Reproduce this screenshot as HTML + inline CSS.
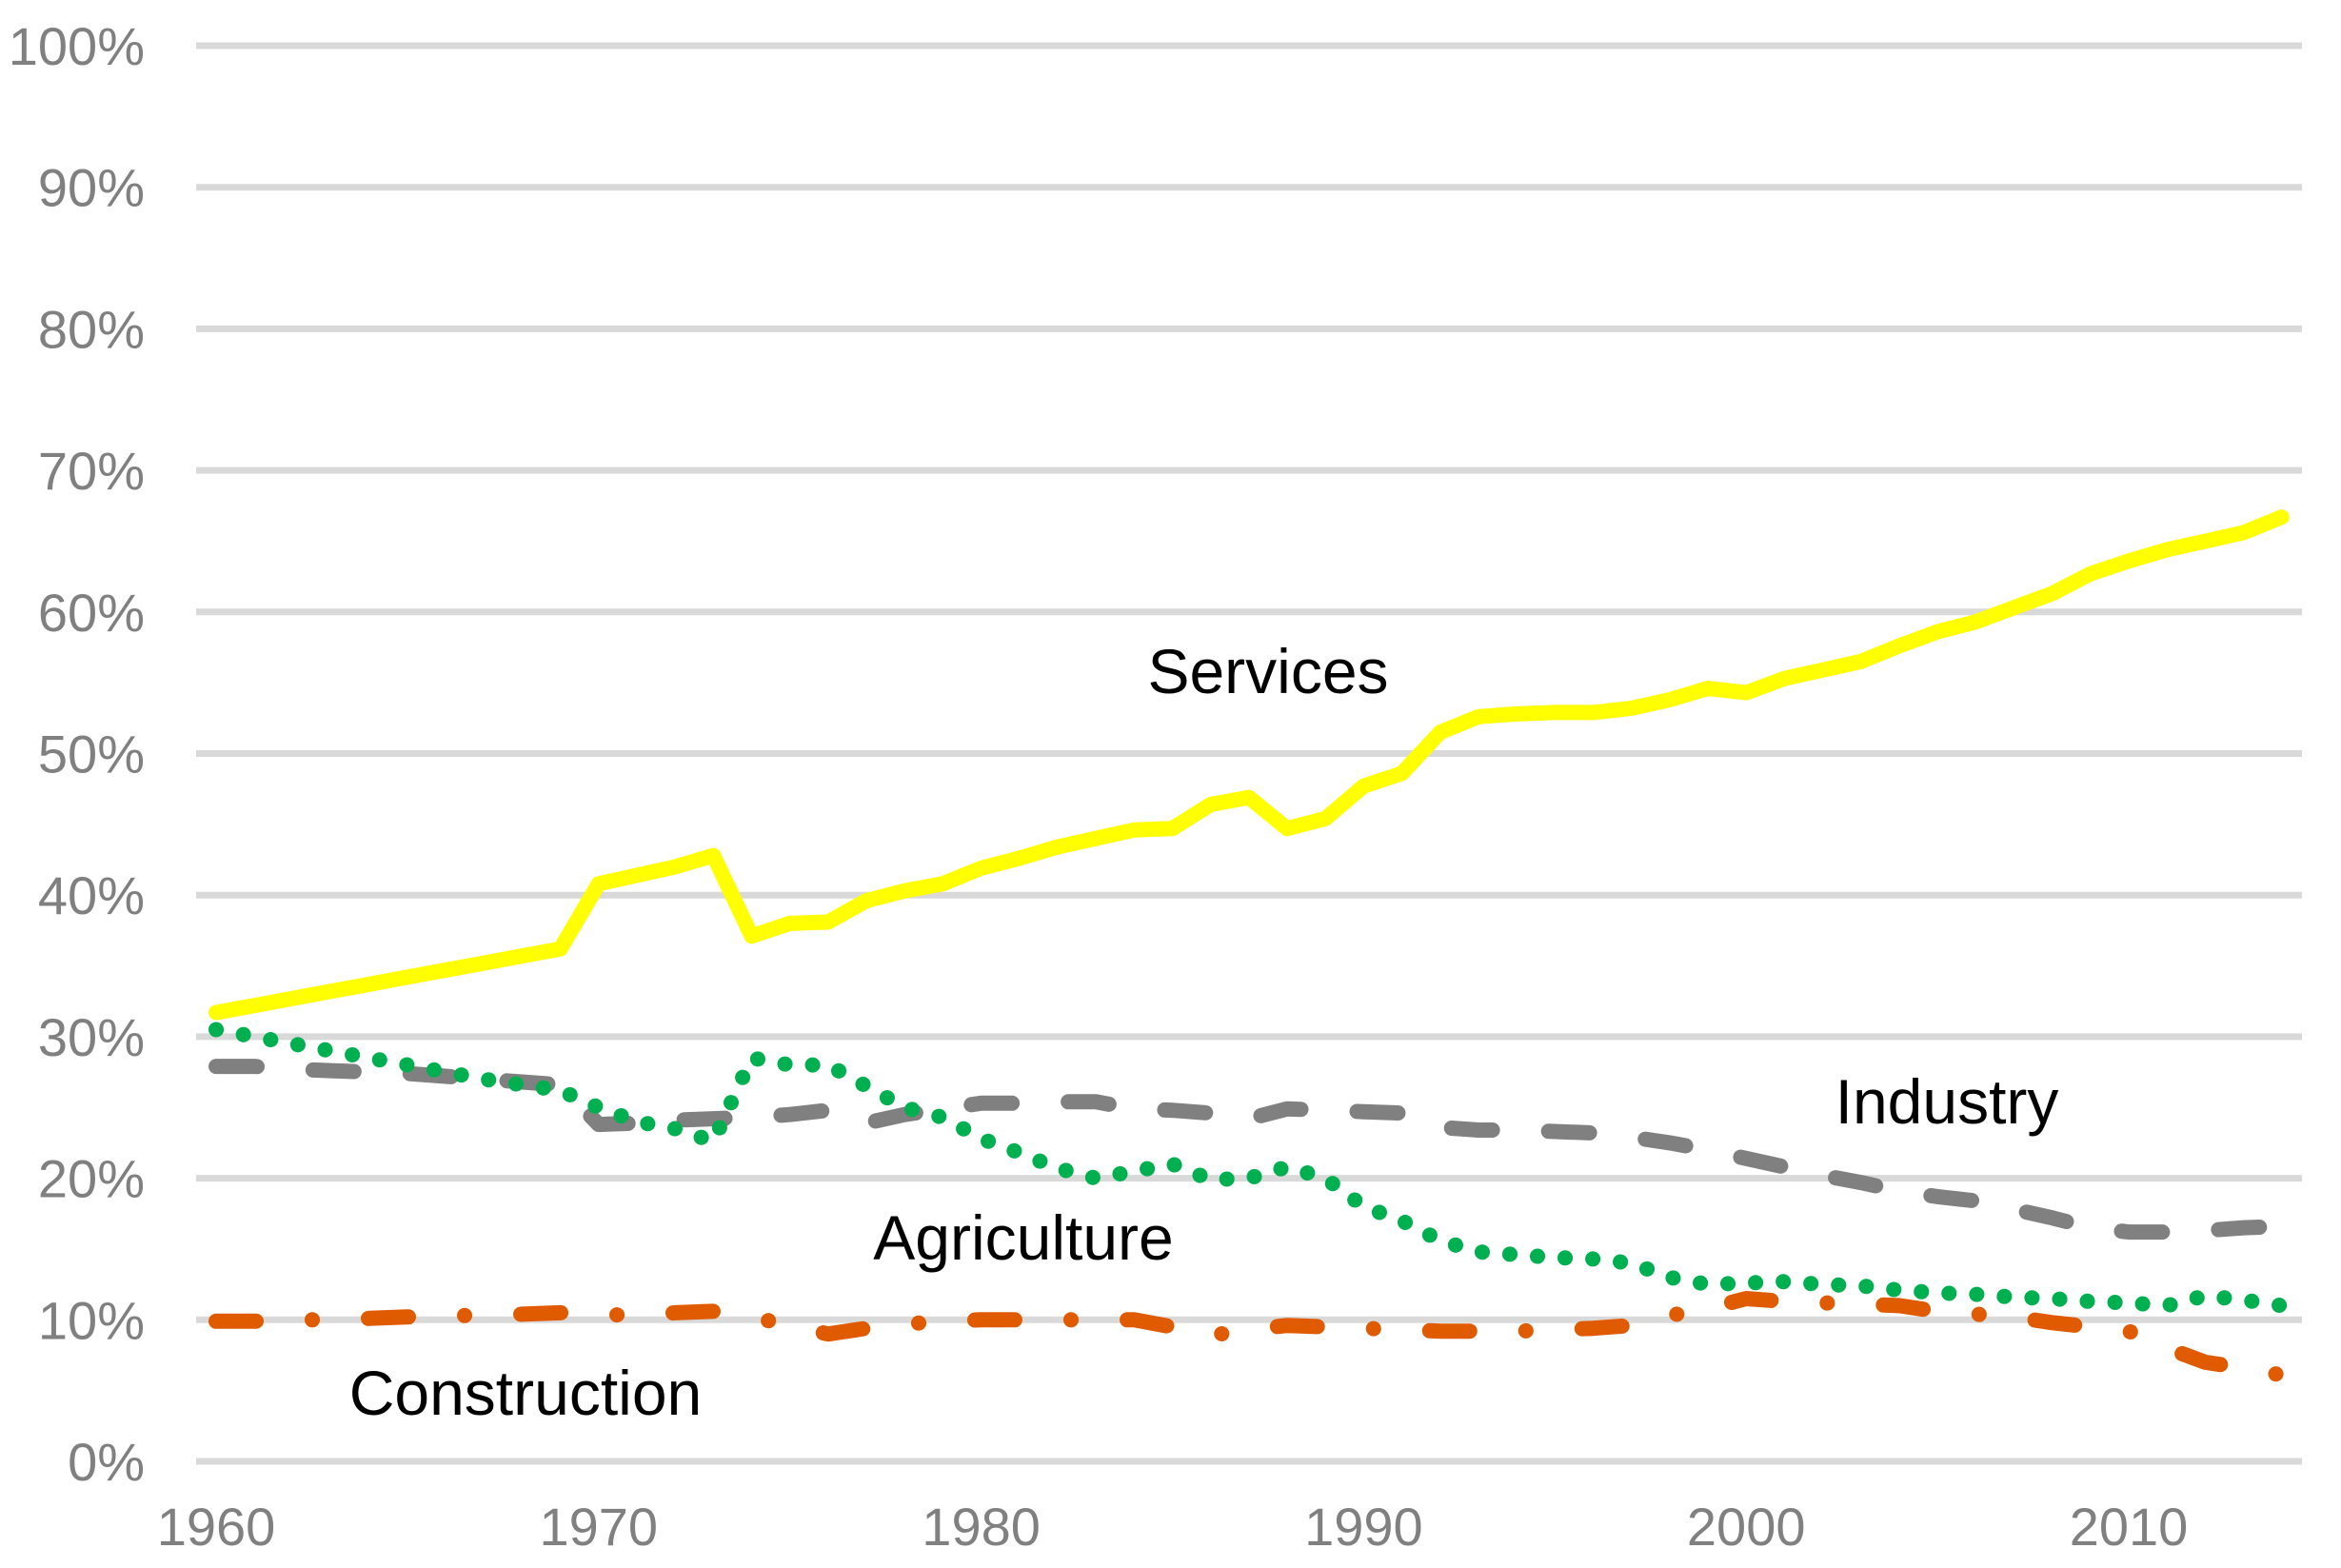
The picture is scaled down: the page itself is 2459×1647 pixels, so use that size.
<!DOCTYPE html>
<html><head><meta charset="utf-8"><style>
html,body{margin:0;padding:0;background:#fff;}
svg{display:block;font-family:"Liberation Sans",Arial,sans-serif;}
</style></head><body>
<svg id="chart" width="2459" height="1647" viewBox="0 0 2459 1647" xmlns="http://www.w3.org/2000/svg">
<g id="grid"></g>
<g id="ylabels"></g>
<g id="xlabels"></g>
<g id="series"></g>
<g font-size="66" fill="#000" text-anchor="middle" dominant-baseline="central">
<text x="1332" y="705">Services</text>
<text x="2045" y="1157">Industry</text>
<text x="1075" y="1300">Agriculture</text>
<text x="552" y="1463">Construction</text>
</g>
</svg>
<script>
const startYear = 1960;
const yTicks = [0,10,20,30,40,50,60,70,80,90,100];
const xTicks = [1960,1970,1980,1990,2000,2010];
const services = [31.7,32.2,32.7,33.2,33.7,34.2,34.7,35.2,35.7,36.2,40.8,41.4,42.0,42.8,37.1,38.0,38.1,39.6,40.3,40.8,41.9,42.6,43.4,44.0,44.6,44.7,46.4,46.9,44.7,45.4,47.7,48.6,51.5,52.6,52.8,52.9,52.9,53.2,53.8,54.6,54.3,55.3,55.9,56.5,57.6,58.6,59.3,60.3,61.3,62.7,63.6,64.4,65.0,65.6,66.7];
const agriculture = [30.5,30.0,29.5,29.0,28.5,28.0,27.5,27.0,26.6,26.2,25.0,24.0,23.5,22.6,28.5,28.0,28.0,26.5,25.0,24.3,22.8,21.8,20.7,20.0,20.5,21.0,19.9,20.0,20.8,20.0,18.0,17.0,15.6,14.8,14.6,14.4,14.3,14.0,13.0,12.5,12.6,12.7,12.5,12.4,12.1,11.9,11.8,11.6,11.5,11.3,11.2,11.0,11.7,11.4,11.0];
const industry = [27.9,27.9,27.7,27.6,27.5,27.4,27.2,27.0,26.8,26.6,23.8,23.9,24.1,24.2,24.3,24.5,24.8,23.9,24.5,24.9,25.3,25.3,25.4,25.4,24.9,24.8,24.6,24.2,24.9,24.8,24.7,24.6,23.6,23.4,23.4,23.3,23.2,22.9,22.5,22.0,21.4,20.8,20.2,19.7,19.1,18.7,18.4,17.8,17.2,16.5,16.2,16.2,16.3,16.5,16.6];
const construction = [9.9,9.9,10.0,10.0,10.1,10.2,10.3,10.3,10.4,10.5,10.4,10.3,10.5,10.6,10.2,9.6,9.0,9.4,9.7,9.9,10.0,10.0,10.0,10.0,10.0,9.5,8.9,9.3,9.6,9.5,9.4,9.3,9.2,9.2,9.2,9.3,9.4,9.6,10.3,10.8,11.5,11.3,11.2,11.1,11.0,10.6,10.4,10.2,9.8,9.5,9.2,8.0,7.0,6.6,6.1];

const NS='http://www.w3.org/2000/svg';
function xScale(year){return 227 + (year-1960)*40.18;}
function yScale(p){return 1535 - p*14.87;}

const grid=document.getElementById('grid');
const yl=document.getElementById('ylabels');
yTicks.forEach(t=>{
  const l=document.createElementNS(NS,'line');
  l.setAttribute('x1',206);l.setAttribute('x2',2418);
  l.setAttribute('y1',yScale(t));l.setAttribute('y2',yScale(t));
  l.setAttribute('stroke','#d9d9d9');l.setAttribute('stroke-width',7);
  
  
  grid.appendChild(l);
  const tx=document.createElementNS(NS,'text');
  tx.setAttribute('x',152);tx.setAttribute('y',yScale(t)+20);
  tx.setAttribute('text-anchor','end');tx.setAttribute('font-size',56);tx.setAttribute('fill','#808080');
  tx.textContent=t+'%';
  
  
  yl.appendChild(tx);
});
const xl=document.getElementById('xlabels');
xTicks.forEach(t=>{
  const tx=document.createElementNS(NS,'text');
  tx.setAttribute('x',xScale(t));tx.setAttribute('y',1623);
  tx.setAttribute('text-anchor','middle');tx.setAttribute('font-size',56);tx.setAttribute('fill','#808080');
  tx.textContent=t;
  
  
  xl.appendChild(tx);
});
const sg=document.getElementById('series');
function draw(vals,color,dash,name){
  const p=document.createElementNS(NS,'path');
  const d=vals.map((v,i)=>(i?'L':'M')+xScale(startYear+i).toFixed(1)+' '+yScale(v).toFixed(1)).join(' ');
  p.setAttribute('d',d);p.setAttribute('fill','none');p.setAttribute('stroke',color);
  p.setAttribute('stroke-width',16);p.setAttribute('stroke-linecap','round');p.setAttribute('stroke-linejoin','round');
  if(dash)p.setAttribute('stroke-dasharray',dash);
  
  
  sg.appendChild(p);
}
draw(construction,'#e05a00','42 59 0.1 59','construction-line');
draw(industry,'#808080','43 59','industry-line');
draw(agriculture,'#00b050','0.1 29','agriculture-line');
draw(services,'#ffff00',null,'services-line');
</script>
</body></html>
